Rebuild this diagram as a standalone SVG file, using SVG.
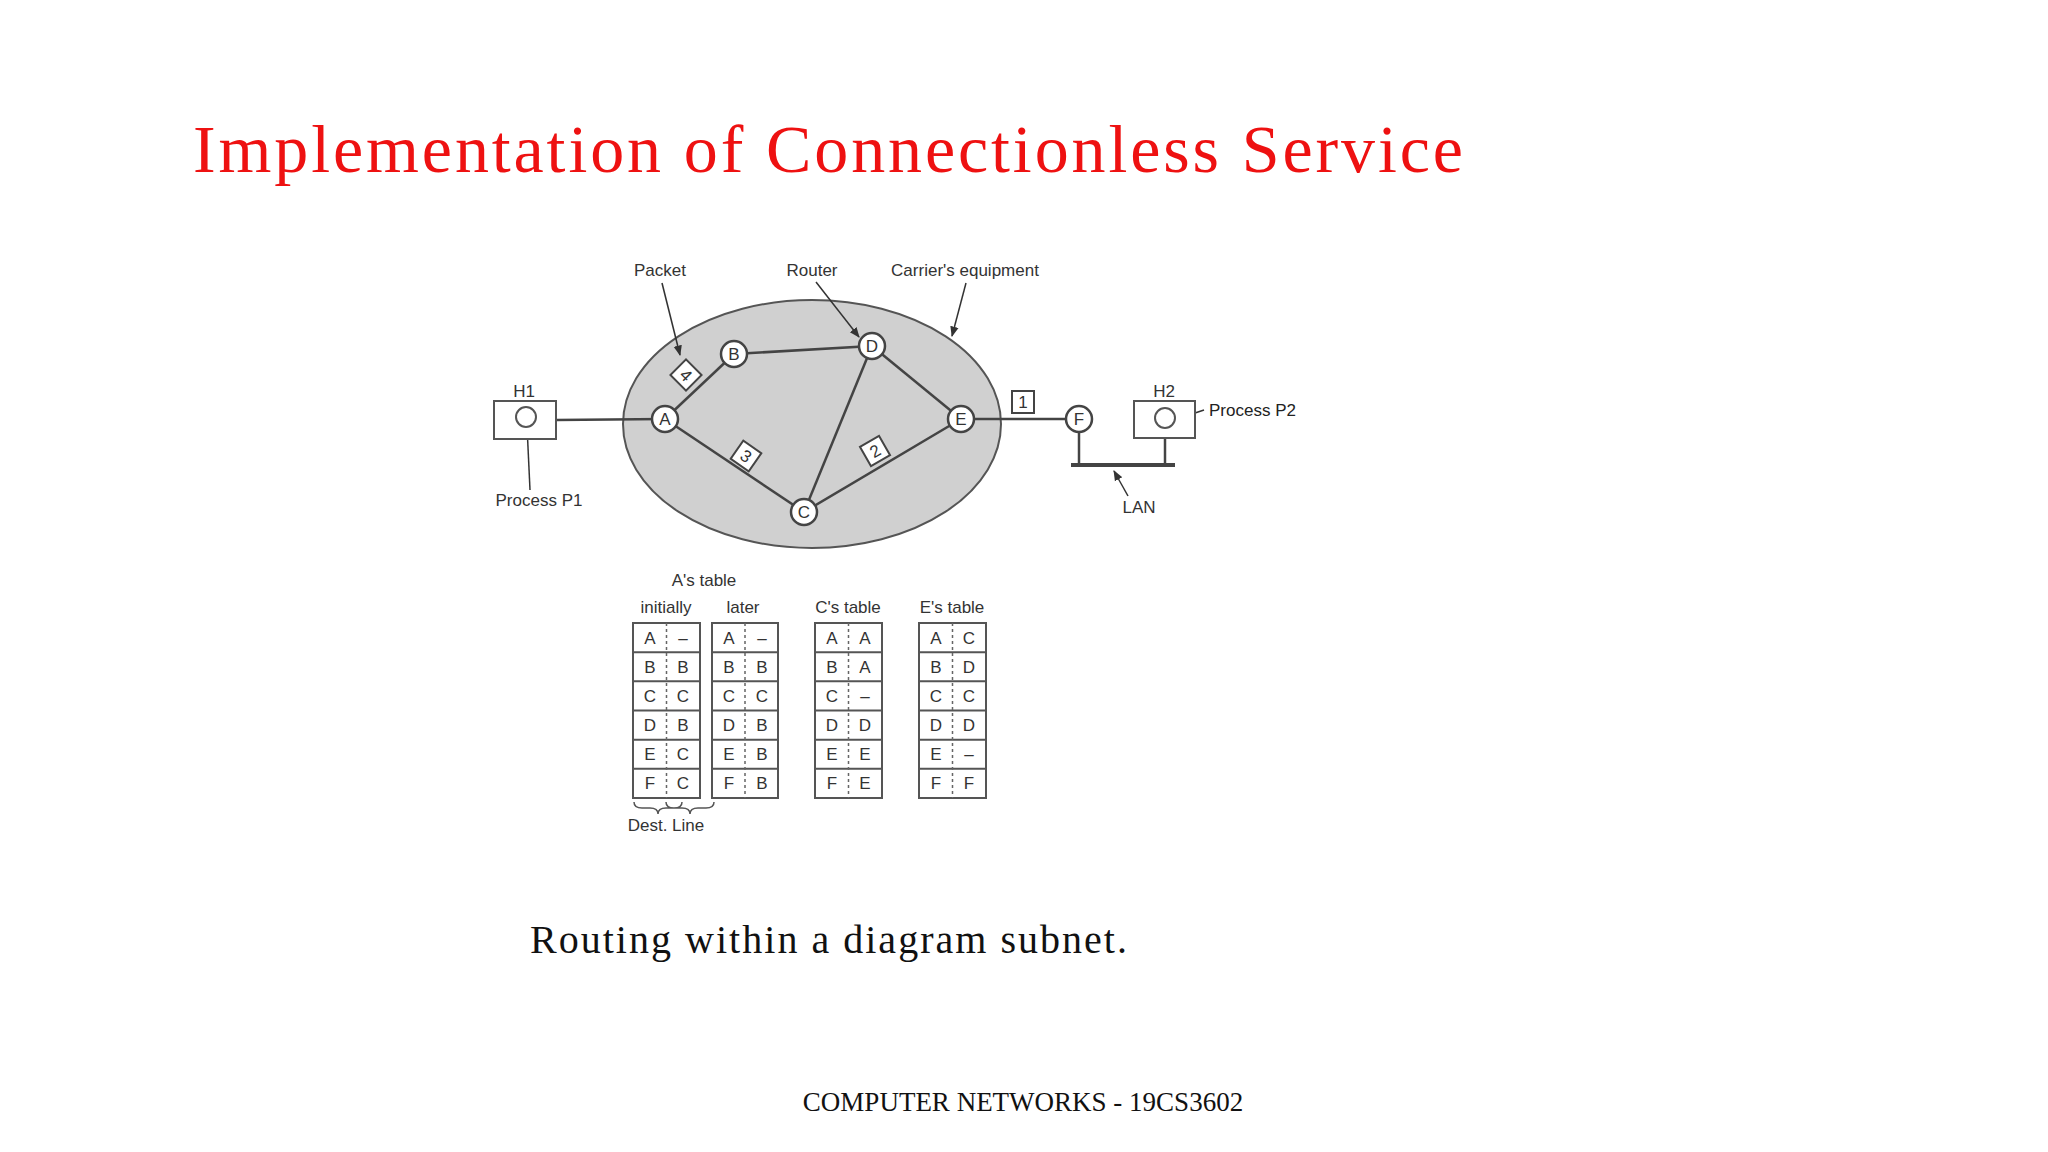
<svg xmlns="http://www.w3.org/2000/svg" width="2048" height="1152" viewBox="0 0 2048 1152">
<style>
.t{font-family:"Liberation Sans",Arial,sans-serif;font-size:17px;fill:#222}
.n{fill:#fff;stroke:#444;stroke-width:2.5}
.l{stroke:#444;stroke-width:2.5;fill:none}
.a{stroke:#333;stroke-width:1.5;fill:none;marker-end:url(#ar)}
.c{font-family:"Liberation Sans",Arial,sans-serif;font-size:17px;fill:#333;text-anchor:middle}
.tb{fill:#fff;stroke:#555;stroke-width:2}
.d{stroke:#666;stroke-width:1.5;stroke-dasharray:3,3}
</style>
<defs><marker id="ar" viewBox="0 0 10 10" refX="9" refY="5" markerWidth="7" markerHeight="7" orient="auto"><path d="M0,1L10,5L0,9z" fill="#333"/></marker></defs>
<rect width="2048" height="1152" fill="#fff"/>
<text x="193" y="172" font-family="Liberation Serif,serif" font-size="68" fill="#ee1111" textLength="1270">Implementation of Connectionless Service</text>
<ellipse cx="812" cy="424" rx="189" ry="124" fill="#d0d0d0" stroke="#555" stroke-width="2"/>
<g id="connectors">
<line class="l" x1="556" y1="420" x2="665" y2="419"/>
<line class="l" x1="665" y1="419" x2="734" y2="354"/>
<line class="l" x1="734" y1="354" x2="872" y2="346"/>
<line class="l" x1="872" y1="346" x2="961" y2="419"/>
<line class="l" x1="872" y1="346" x2="804" y2="512"/>
<line class="l" x1="665" y1="419" x2="804" y2="512"/>
<line class="l" x1="804" y1="512" x2="961" y2="419"/>
<line class="l" x1="961" y1="419" x2="1079" y2="419"/>
<line class="l" x1="1079" y1="432" x2="1079" y2="465"/>
<line class="l" x1="1165" y1="439" x2="1165" y2="465"/>
<line x1="1071" y1="465" x2="1175" y2="465" stroke="#444" stroke-width="4"/>
<line class="a" x1="530" y1="490" x2="527" y2="426"/>
<line class="a" x1="1204" y1="410" x2="1183" y2="417"/>
<line class="a" x1="1128" y1="496" x2="1114" y2="471"/>
<line class="a" x1="662" y1="283" x2="680" y2="355"/>
<line class="a" x1="816" y1="282" x2="859" y2="337"/>
<line class="a" x1="966" y1="283" x2="952" y2="336"/>
</g>
<g id="H1"><rect x="494" y="401" width="62" height="38" fill="#fff" stroke="#555" stroke-width="2"/><circle cx="526" cy="417" r="10" fill="#fff" stroke="#555" stroke-width="2"/><text class="c" x="524" y="397">H1</text></g>
<g id="H2"><rect x="1134" y="401" width="61" height="37" fill="#fff" stroke="#555" stroke-width="2"/><circle cx="1165" cy="418" r="10" fill="#fff" stroke="#555" stroke-width="2"/><text class="c" x="1164" y="397">H2</text></g>
<g id="A"><circle class="n" cx="665" cy="419" r="13"/><text class="c" x="665" y="425">A</text></g>
<g id="B"><circle class="n" cx="734" cy="354" r="13"/><text class="c" x="734" y="360">B</text></g>
<g id="D"><circle class="n" cx="872" cy="346" r="13"/><text class="c" x="872" y="352">D</text></g>
<g id="E"><circle class="n" cx="961" cy="419" r="13"/><text class="c" x="961" y="425">E</text></g>
<g id="C"><circle class="n" cx="804" cy="512" r="13"/><text class="c" x="804" y="518">C</text></g>
<g id="F"><circle class="n" cx="1079" cy="419" r="13"/><text class="c" x="1079" y="425">F</text></g>
<g id="p4" transform="translate(686,375) rotate(-45)"><rect x="-11" y="-11" width="22" height="22" fill="#fff" stroke="#444" stroke-width="2"/><text class="c" y="6" transform="rotate(90)">4</text></g>
<g id="p3" transform="translate(746,456) rotate(35)"><rect x="-11" y="-11" width="22" height="22" fill="#fff" stroke="#444" stroke-width="2"/><text class="c" y="6">3</text></g>
<g id="p2" transform="translate(875,451) rotate(-30)"><rect x="-11" y="-11" width="22" height="22" fill="#fff" stroke="#444" stroke-width="2"/><text class="c" y="6">2</text></g>
<g id="p1"><rect x="1012" y="391" width="22" height="22" fill="#fff" stroke="#444" stroke-width="2"/><text class="c" x="1023" y="408">1</text></g>
<text class="c" x="660" y="276">Packet</text>
<text class="c" x="812" y="276">Router</text>
<text class="c" x="965" y="276">Carrier's equipment</text>
<text class="c" x="539" y="506">Process P1</text>
<text class="t" x="1209" y="416">Process P2</text>
<text class="c" x="1139" y="513">LAN</text>
<text class="c" x="704" y="586">A's table</text>
<text class="c" x="666" y="613">initially</text>
<text class="c" x="743" y="613">later</text>
<text class="c" x="848" y="613">C's table</text>
<text class="c" x="952" y="613">E's table</text>
<g id="tables">
<g id="tA1" transform="translate(633,623)"><rect class="tb" width="67" height="175"/>
<path class="tb" d="M0,29.2H67M0,58.3H67M0,87.5H67M0,116.7H67M0,145.8H67"/><line class="d" x1="33.5" y1="0" x2="33.5" y2="175"/>
<g class="c"><text x="17" y="21">A</text><text x="50" y="21">–</text><text x="17" y="50">B</text><text x="50" y="50">B</text><text x="17" y="79">C</text><text x="50" y="79">C</text><text x="17" y="108">D</text><text x="50" y="108">B</text><text x="17" y="137">E</text><text x="50" y="137">C</text><text x="17" y="166">F</text><text x="50" y="166">C</text></g></g>
<g id="tA2" transform="translate(712,623)"><rect class="tb" width="66" height="175"/>
<path class="tb" d="M0,29.2H66M0,58.3H66M0,87.5H66M0,116.7H66M0,145.8H66"/><line class="d" x1="33" y1="0" x2="33" y2="175"/>
<g class="c"><text x="17" y="21">A</text><text x="50" y="21">–</text><text x="17" y="50">B</text><text x="50" y="50">B</text><text x="17" y="79">C</text><text x="50" y="79">C</text><text x="17" y="108">D</text><text x="50" y="108">B</text><text x="17" y="137">E</text><text x="50" y="137">B</text><text x="17" y="166">F</text><text x="50" y="166">B</text></g></g>
<g id="tC" transform="translate(815,623)"><rect class="tb" width="67" height="175"/>
<path class="tb" d="M0,29.2H67M0,58.3H67M0,87.5H67M0,116.7H67M0,145.8H67"/><line class="d" x1="33.5" y1="0" x2="33.5" y2="175"/>
<g class="c"><text x="17" y="21">A</text><text x="50" y="21">A</text><text x="17" y="50">B</text><text x="50" y="50">A</text><text x="17" y="79">C</text><text x="50" y="79">–</text><text x="17" y="108">D</text><text x="50" y="108">D</text><text x="17" y="137">E</text><text x="50" y="137">E</text><text x="17" y="166">F</text><text x="50" y="166">E</text></g></g>
<g id="tE" transform="translate(919,623)"><rect class="tb" width="67" height="175"/>
<path class="tb" d="M0,29.2H67M0,58.3H67M0,87.5H67M0,116.7H67M0,145.8H67"/><line class="d" x1="33.5" y1="0" x2="33.5" y2="175"/>
<g class="c"><text x="17" y="21">A</text><text x="50" y="21">C</text><text x="17" y="50">B</text><text x="50" y="50">D</text><text x="17" y="79">C</text><text x="50" y="79">C</text><text x="17" y="108">D</text><text x="50" y="108">D</text><text x="17" y="137">E</text><text x="50" y="137">–</text><text x="17" y="166">F</text><text x="50" y="166">F</text></g></g>
<path d="M634,802q0,6 8,6h8q8,0 8,6q0,-6 8,-6h8q8,0 8,-6M666,802q0,6 8,6h8q8,0 8,6q0,-6 8,-6h8q8,0 8,-6" fill="none" stroke="#555" stroke-width="1.5" transform="translate(0,0)"/>
<text class="c" x="666" y="831" font-size="15">Dest. Line</text>
</g>
<text x="530" y="953" font-family="Liberation Serif,serif" font-size="40" fill="#111" textLength="597">Routing within a diagram subnet.</text>
<text x="1023" y="1111" font-family="Liberation Serif,serif" font-size="27" fill="#111" text-anchor="middle">COMPUTER NETWORKS - 19CS3602</text>
</svg>
